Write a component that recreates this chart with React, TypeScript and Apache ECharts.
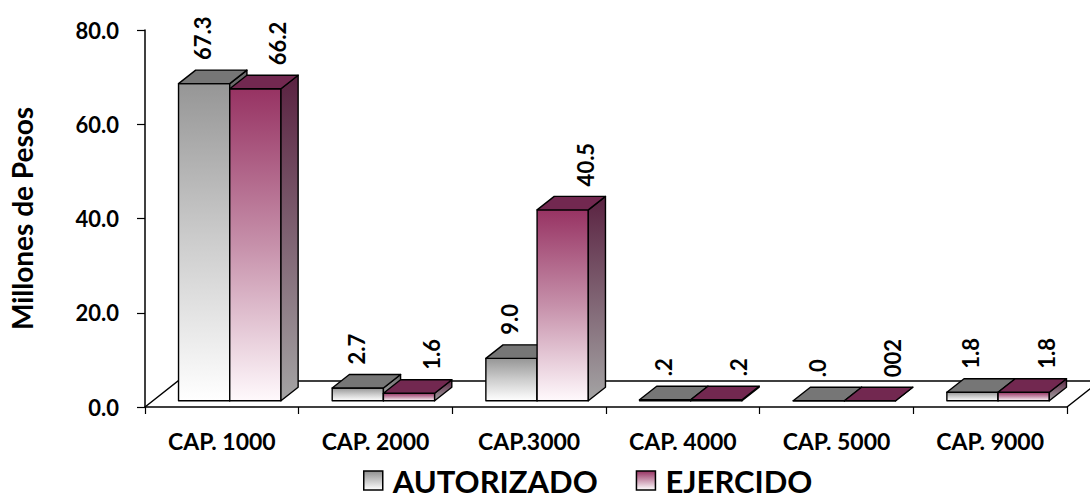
import React, { useEffect, useRef } from "react";
import * as echarts from "echarts";

const categories = ["CAP. 1000", "CAP. 2000", "CAP.3000", "CAP. 4000", "CAP. 5000", "CAP. 9000"];
const autorizado = [67.3, 2.7, 9.0, 0.2, 0.0, 1.8];
const ejercido = [66.2, 1.6, 40.5, 0.2, 0.002, 1.8];
const autorizadoLabels = ["67.3", "2.7", "9.0", ".2", ".0", "1.8"];
const ejercidoLabels = ["66.2", "1.6", "40.5", ".2", "002", "1.8"];
const seriesNames = ["AUTORIZADO", "EJERCIDO"];
const yTicks = { min: 0, max: 80, interval: 20 };

const FONT = "Lato, 'Open Sans', sans-serif";
const FLOOR_DX = 33;
const FLOOR_DY = -26;
const FRONT_F = 0.24;
const BACK_F = 0.76;

const grad = (stops: [number, string][], x2 = 0, y2 = 1) =>
  new echarts.graphic.LinearGradient(0, 0, x2, y2, stops.map(([offset, color]) => ({ offset, color })));

const styles = [
  {
    front: () => grad([[0, "#969696"], [0.5, "#cdcdcd"], [1, "#ffffff"]]),
    top: "#767676",
    side: () => grad([[0, "#6a6a6a"], [1, "#b0b0b0"]]),
    legend: () => grad([[0, "#8f8f8f"], [1, "#ffffff"]]),
    labelOffset: 24,
  },
  {
    front: () => grad([[0, "#973363"], [0.5, "#c690aa"], [1, "#fff9fc"]]),
    top: "#722850",
    side: () => grad([[0, "#5a2241"], [1, "#a4a4a4"]]),
    legend: () => grad([[0, "#973363"], [1, "#ffffff"]]),
    labelOffset: 48,
  },
];

function makeBarRenderer(sIdx: number, labels: string[]) {
  return (params: any, api: any) => {
    const i = api.value(0);
    const v = api.value(1);
    const base = api.coord([i, 0]);
    const top = api.coord([i, v]);
    const band = api.size([1, 0])[0];
    const barW = band / 3;
    const sx = FLOOR_DX * FRONT_F;
    const sy = FLOOR_DY * FRONT_F;
    const ddx = FLOOR_DX * (BACK_F - FRONT_F);
    const ddy = FLOOR_DY * (BACK_F - FRONT_F);
    const x0 = base[0] - barW + sIdx * barW + sx;
    const yb = base[1] + sy;
    const yt = top[1] + sy;
    const st = styles[sIdx];
    const stroke = { stroke: "#000", lineWidth: 1.4, lineJoin: "round" };
    return {
      type: "group",
      children: [
        {
          type: "polygon",
          shape: { points: [[x0, yt], [x0 + barW, yt], [x0 + barW, yb], [x0, yb]] },
          style: { fill: st.front(), ...stroke },
        },
        {
          type: "polygon",
          shape: { points: [[x0 + barW, yt], [x0 + barW + ddx, yt + ddy], [x0 + barW + ddx, yb + ddy], [x0 + barW, yb]] },
          style: { fill: st.side(), ...stroke },
        },
        {
          type: "polygon",
          shape: { points: [[x0, yt], [x0 + barW, yt], [x0 + barW + ddx, yt + ddy], [x0 + ddx, yt + ddy]] },
          style: { fill: st.top, ...stroke },
        },
        {
          type: "text",
          x: x0 + st.labelOffset,
          y: yt + ddy - 10,
          rotation: Math.PI / 2,
          style: {
            text: labels[i],
            fill: "#000",
            font: `bold 22px ${FONT}`,
            align: "left",
            verticalAlign: "middle",
          },
        },
      ],
    };
  };
}

function floorRenderer(params: any, api: any) {
  const band = api.size([1, 0])[0];
  const l = api.coord([0, 0]);
  const r = api.coord([categories.length - 1, 0]);
  const left = l[0] - band / 2;
  const right = r[0] + band / 2;
  const y = l[1];
  return {
    type: "polyline",
    shape: {
      points: [
        [left, y],
        [left + FLOOR_DX, y + FLOOR_DY],
        [right + FLOOR_DX, y + FLOOR_DY],
        [right, y],
      ],
    },
    style: { fill: "none", stroke: "#000", lineWidth: 1.5 },
    z2: 0,
  };
}

export default function App() {
  const ref = useRef<HTMLDivElement>(null);
  useEffect(() => {
    document.body.style.margin = "0";
    if (!ref.current) return;
    const chart = echarts.init(ref.current, undefined, { renderer: "svg" });
    chart.setOption({
      animation: false,
      backgroundColor: "#ffffff",
      grid: { left: 143, right: 23, top: 30, bottom: 93, containLabel: false },
      xAxis: {
        type: "category",
        data: categories,
        axisLine: { show: true, lineStyle: { color: "#000", width: 1.5 } },
        axisTick: { show: true, length: 7, lineStyle: { color: "#000", width: 1.2 } },
        axisLabel: {
          interval: 0,
          margin: 22,
          color: "#000",
          fontFamily: FONT,
          fontWeight: "bold",
          fontSize: 23,
        },
        splitLine: { show: false },
      },
      yAxis: {
        type: "value",
        min: yTicks.min,
        max: yTicks.max,
        interval: yTicks.interval,
        name: "Millones de Pesos",
        nameLocation: "middle",
        nameRotate: 90,
        nameGap: 109,
        nameTextStyle: { color: "#000", fontFamily: FONT, fontWeight: "bold", fontSize: 28 },
        axisLine: { show: true, lineStyle: { color: "#000", width: 1.5 } },
        axisTick: { show: true, length: 8, lineStyle: { color: "#000", width: 1.2 } },
        axisLabel: {
          margin: 26,
          color: "#000",
          fontFamily: FONT,
          fontWeight: "bold",
          fontSize: 22,
          formatter: (v: number) => v.toFixed(1),
        },
        splitLine: { show: false },
      },
      legend: {
        data: seriesNames.map((n, k) => ({
          name: n,
          icon: "rect",
          itemStyle: { color: styles[k].legend(), borderColor: "#000", borderWidth: 1.5 },
        })),
        left: 363,
        top: 465,
        padding: 0,
        itemWidth: 19,
        itemHeight: 19,
        itemGap: 38,
        selectedMode: false,
        textStyle: {
          color: "#000",
          fontFamily: FONT,
          fontWeight: "bold",
          fontSize: 31,
          padding: [0, 0, 0, 5],
        },
      },
      series: [
        {
          type: "custom",
          name: "floor",
          silent: true,
          z: 1,
          renderItem: floorRenderer,
          data: [[0, 0]],
        },
        {
          type: "custom",
          name: seriesNames[0],
          z: 2,
          itemStyle: { color: styles[0].legend() },
          renderItem: makeBarRenderer(0, autorizadoLabels),
          data: autorizado.map((v, i) => [i, v]),
        },
        {
          type: "custom",
          name: seriesNames[1],
          z: 3,
          itemStyle: { color: styles[1].legend() },
          renderItem: makeBarRenderer(1, ejercidoLabels),
          data: ejercido.map((v, i) => [i, v]),
        },
      ],
    });
    return () => chart.dispose();
  }, []);
  return <div ref={ref} style={{ width: 1090, height: 500 }} />;
}
